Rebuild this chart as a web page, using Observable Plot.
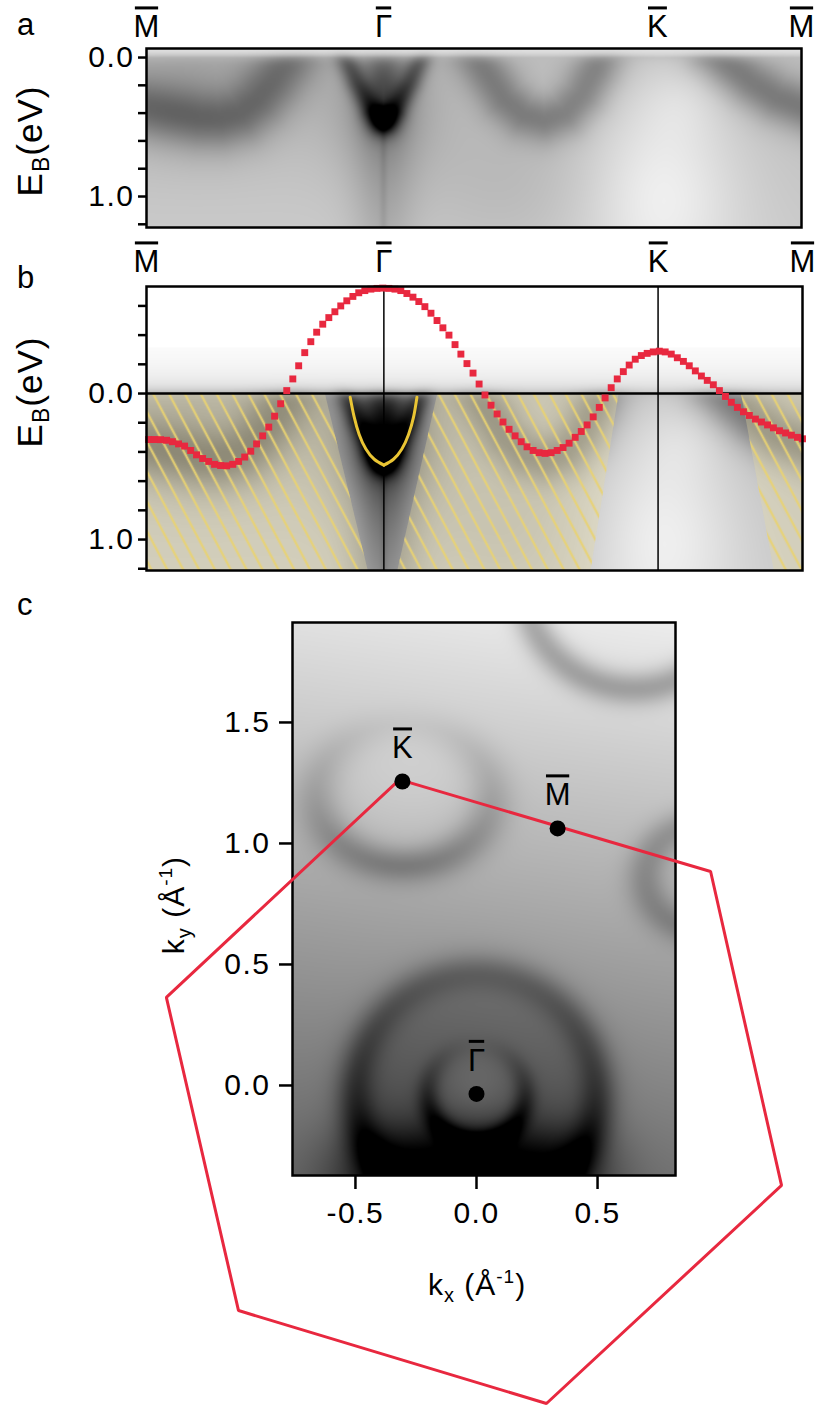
<!DOCTYPE html>
<html>
<head>
<meta charset="utf-8">
<script src="https://cdn.jsdelivr.net/npm/d3@7"></script>
<script src="https://cdn.jsdelivr.net/npm/@observablehq/plot@0.6"></script>
<style>
  html, body { margin: 0; padding: 0; background: #fff; }
  #fig { position: relative; width: 829px; height: 1417px; overflow: hidden; background: #fff;
         font-family: "Liberation Sans", Arial, Helvetica, sans-serif; }
  #fig .panel { position: absolute; left: 0; }
  #fig svg.overlay { position: absolute; left: 0; top: 0; pointer-events: none; }
  #fig svg.overlay text { font-family: "Liberation Sans", Arial, Helvetica, sans-serif; letter-spacing: 1px; white-space: pre; fill: #000; }
</style>
</head>
<body>
<div id="fig">
  <svg width="0" height="0" style="position:absolute">
    <defs>
      <pattern id="hatch" patternUnits="userSpaceOnUse" width="14" height="14" patternTransform="rotate(-28)">
        <rect x="5.75" y="0" width="2.5" height="14" fill="#e9d272" fill-opacity="0.85"></rect>
      </pattern>
    </defs>
  </svg>
  <div class="panel" id="pa" style="top:0px"></div>
  <div class="panel" id="pb" style="top:240px"></div>
  <div class="panel" id="pc" style="top:590px"></div>
  <svg class="overlay" width="829" height="1417">
    <text x="17" y="35" font-size="31">a</text>
    <text x="17" y="288" font-size="31">b</text>
    <text x="17" y="615" font-size="31">c</text>
    <text transform="translate(42,141) rotate(-90)" text-anchor="middle" font-size="35">E<tspan font-size="23" dy="7">B</tspan><tspan dy="-7">(eV)</tspan></text>
    <text transform="translate(42,392) rotate(-90)" text-anchor="middle" font-size="35">E<tspan font-size="23" dy="7">B</tspan><tspan dy="-7">(eV)</tspan></text>
    <text transform="translate(184,905) rotate(-90)" text-anchor="middle" font-size="30">k<tspan font-size="20" dy="7">y</tspan><tspan dy="-7"> (Å</tspan><tspan font-size="19" dy="-12">-1</tspan><tspan dy="12">)</tspan></text>
    <text x="477" y="1295" text-anchor="middle" font-size="30">k<tspan font-size="20" dy="7">x</tspan><tspan dy="-7"> (Å</tspan><tspan font-size="19" dy="-12">-1</tspan><tspan dy="12">)</tspan></text>
  </svg>
</div>
<script>
const RED = "#e8283f";
const YELLOW = "#eac534";
const FONT = '"Liberation Sans", Arial, Helvetica, sans-serif';

// ---------- panels a & b : cut along M–Γ–K–M ----------
const symbolNames = ["M", "Γ", "K", "M"];
const symbolK = [-1.134, 0, 1.31, 2.0];
const kRange = [-1.134, 2.0];
const energyRangeA = [-0.065, 1.223];
const energyRangeB = [-0.733, 1.212];
const imageTopB = -0.315;
const energyTicksA = [0, 0.2, 0.4, 0.6, 0.8, 1.0, 1.2];
const energyTicksB = [-0.6, -0.4, -0.2, 0, 0.2, 0.4, 0.6, 0.8, 1.0, 1.2];
const labeledEnergies = [0, 1];

// calculated band (red squares)
const calcK = [-1.124,-1.096,-1.067,-1.038,-1.010,-0.981,-0.952,-0.923,-0.895,-0.866,
  -0.837,-0.809,-0.780,-0.751,-0.722,-0.694,-0.665,-0.636,-0.608,-0.579,
  -0.550,-0.522,-0.493,-0.464,-0.435,-0.407,-0.378,-0.349,-0.321,-0.292,
  -0.263,-0.234,-0.206,-0.177,-0.148,-0.120,-0.091,-0.062,-0.033,-0.005,
  0.024,0.053,0.081,0.110,0.139,0.167,0.196,0.225,0.254,0.282,
  0.311,0.340,0.368,0.397,0.426,0.455,0.483,0.512,0.541,0.569,
  0.598,0.627,0.656,0.684,0.713,0.742,0.770,0.799,0.828,0.856,
  0.885,0.914,0.943,0.971,1.000,1.029,1.057,1.086,1.115,1.144,
  1.172,1.201,1.230,1.258,1.287,1.316,1.344,1.373,1.402,1.431,
  1.459,1.488,1.517,1.545,1.574,1.603,1.632,1.660,1.689,1.718,
  1.746,1.775,1.804,1.833,1.861,1.890,1.919,1.947,1.976,2.000];
const calcE = [0.315,0.315,0.316,0.32,0.33,0.345,0.36,0.39,0.42,0.445,
  0.465,0.485,0.493,0.495,0.485,0.465,0.435,0.395,0.345,0.29,
  0.23,0.155,0.07,-0.02,-0.10,-0.19,-0.28,-0.355,-0.42,-0.475,
  -0.52,-0.56,-0.60,-0.635,-0.665,-0.69,-0.705,-0.715,-0.72,-0.722,
  -0.72,-0.715,-0.705,-0.685,-0.66,-0.63,-0.595,-0.55,-0.50,-0.45,
  -0.40,-0.335,-0.27,-0.205,-0.14,-0.065,0.01,0.08,0.14,0.195,
  0.245,0.29,0.33,0.365,0.39,0.405,0.41,0.405,0.39,0.37,
  0.34,0.30,0.26,0.215,0.16,0.095,0.03,-0.04,-0.10,-0.15,
  -0.195,-0.235,-0.26,-0.275,-0.285,-0.29,-0.285,-0.27,-0.245,-0.22,
  -0.19,-0.155,-0.12,-0.09,-0.06,-0.02,0.02,0.06,0.095,0.125,
  0.15,0.175,0.195,0.215,0.235,0.255,0.27,0.285,0.30,0.31];

// yellow parabola-like fit at Γ
const fitArm = ["L","L","L","L","L","L","R","R","R","R","R","R"];
const fitK = [-0.161,-0.142,-0.118,-0.086,-0.046,0, 0,0.046,0.086,0.118,0.142,0.158];
const fitE = [0.025,0.16,0.28,0.38,0.45,0.49, 0.49,0.45,0.38,0.28,0.16,0.025];

// hatched (projected bulk) regions
const hatchRegion = [1, 1, 2, 2, 3, 3];
const hatchE  = [0, 1.212, 0, 1.212, 0, 1.212];
const hatchX1 = [-1.134, -1.134, 0.258, 0.067, 1.708, 1.865];
const hatchX2 = [-0.28, -0.075, 1.124, 0.99, 2.0, 2.0];

// photoemission intensity features
const bandAmp = [0.27, 0.30, 0.25, 0.28];
const bandWidth = [21, 8, 17, 18];
const bandPathK = [
  [-1.16,-1.0,-0.88,-0.78,-0.68,-0.60,-0.53,-0.47,-0.43],
  [-0.20,-0.13,-0.06,0,0.06,0.13,0.20],
  [0.43,0.50,0.58,0.67,0.77,0.87,0.95,1.01,1.05],
  [1.58,1.66,1.76,1.88,2.05]];
const bandPathE = [
  [0.36,0.41,0.445,0.45,0.41,0.31,0.18,0.05,-0.05],
  [-0.06,0.18,0.37,0.45,0.37,0.18,-0.06],
  [-0.05,0.12,0.30,0.41,0.45,0.40,0.27,0.10,-0.05],
  [-0.05,0.06,0.18,0.29,0.38]];
const spotK  = [0, 0, 0, -0.9, 1.33, 1.42, 0.6, 0];
const spotE  = [0.45, 0.22, 0.35, 0.25, 0.95, 0.30, 0.9, 0.75];
const spotSX = [11, 15, 40, 70, 55, 30, 70, 22];
const spotSY = [11, 30, 50, 45, 80, 30, 60, 110];
const spotAmp = [0.45, 0.24, 0.12, 0.12, -0.16, -0.05, 0.05, 0.12];
// extra contrast around Γ in panel b (column below the vertex, halo next to the arms)
const extraBK  = [0, 0];
const extraBE  = [0.72, 0.22];
const extraBSX = [24, 42];
const extraBSY = [110, 40];
const extraBAmp = [0.15, 0.16];

// ---------- panel c : constant energy map ----------
const kxRange = [-0.76, 0.822];
const kyRange = [-0.372, 1.913];
const kxTicks = [-0.5, 0, 0.5];
const kyTicks = [0, 0.5, 1.0, 1.5];
const pointNames = ["K", "M", "Γ"];
const pointKx = [-0.306, 0.335, 0];
const pointKy = [1.256, 1.062, -0.035];
const hexKx = [-0.318, 0.967, 1.260, 0.289, -0.983, -1.281];
const hexKy = [1.264, 0.884, -0.413, -1.314, -0.930, 0.364];
const ringCx = [0, 0, -0.30, 0.95, 0.65];
const ringCy = [-0.035, -0.035, 1.20, 0.86, 2.10];
const ringRx = [0.20, 0.50, 0.36, 0.25, 0.46];
const ringRy = [0.20, 0.50, 0.29, 0.22, 0.46];
const ringSigma = [0.035, 0.055, 0.06, 0.055, 0.05];
const ringAmpTop = [0.03, 0.13, 0.03, 0.17, 0.24];
const ringAmpBottom = [0.32, 0.30, 0.20, 0.17, 0.24];

// ---------- intensity evaluation ----------
const SX = 209, SY = 142;
const bandsPx = bandPathK.map((ks, b) => ks.map((k, i) => [k * SX, bandPathE[b][i] * SY]));
function segDist2(px, py, ax, ay, bx, by) {
  const dx = bx - ax, dy = by - ay;
  let t = ((px - ax) * dx + (py - ay) * dy) / (dx * dx + dy * dy);
  t = t < 0 ? 0 : t > 1 ? 1 : t;
  const ex = ax + t * dx - px, ey = ay + t * dy - py;
  return ex * ex + ey * ey;
}
function gaussSum(X, Y, ks, es, sxs, sys, amps) {
  let s = 0;
  for (let i = 0; i < ks.length; i++) {
    const dx = (X - ks[i] * SX) / sxs[i], dy = (Y - es[i] * SY) / sys[i];
    s += amps[i] * Math.exp(-(dx * dx + dy * dy) / 2);
  }
  return s;
}
function arpesDark(k, E) {
  const X = k * SX, Y = E * SY;
  let df = 0;
  for (let b = 0; b < bandsPx.length; b++) {
    const p = bandsPx[b];
    let m = Infinity;
    for (let i = 0; i < p.length - 1; i++) {
      const d = segDist2(X, Y, p[i][0], p[i][1], p[i + 1][0], p[i + 1][1]);
      if (d < m) m = d;
    }
    df += bandAmp[b] * Math.exp(-m / (2 * bandWidth[b] * bandWidth[b]));
  }
  df += gaussSum(X, Y, spotK, spotE, spotSX, spotSY, spotAmp);
  if (E > 0.42) df += 0.05 * Math.exp(-(X * X) / (2 * 2.5 * 2.5));
  return df;
}
function shade(E, df) {
  const d0 = 1 - (0.74 + 0.04 * E);
  const f = 1 / (1 + Math.exp(-E / 0.02));
  const g = E >= 0 ? 1 : 0.45 * Math.exp(E / 0.03) + 0.55 * Math.exp(E / 0.15);
  const v = 1 - (d0 * g + df * f);
  return v < 0 ? 0 : v > 1 ? 1 : v;
}
const arpesA = (k, E) => shade(E, arpesDark(k, E));
const arpesB = (k, E) => shade(E, arpesDark(k, E) + gaussSum(k * SX, E * SY, extraBK, extraBE, extraBSX, extraBSY, extraBAmp));
function fsMap(kx, ky) {
  let v = 0.50 + 0.21 * ky + 0.03 * kx;
  const gx = kx - ringCx[0], gy = ky - ringCy[0];
  const r = Math.hypot(gx, gy);
  v -= 0.16 / (1 + Math.exp((r - 0.52) / 0.05));
  v += 0.07 * Math.exp(-(r * r) / (2 * 0.11 * 0.11));
  v -= 0.40 / (1 + Math.exp((ky + 0.21) / 0.06)) * Math.exp(-Math.pow((kx + 0.02) / 0.56, 4));
  for (let i = 0; i < ringCx.length; i++) {
    const dx = kx - ringCx[i], dy = ky - ringCy[i];
    const rho = Math.sqrt((dx / ringRx[i]) ** 2 + (dy / ringRy[i]) ** 2);
    const d = (rho - 1) * Math.sqrt(ringRx[i] * ringRy[i]);
    const sinT = dy / (Math.hypot(dx, dy) || 1);
    const amp = ringAmpTop[i] * (1 + sinT) / 2 + ringAmpBottom[i] * (1 - sinT) / 2;
    v -= amp * Math.exp(-(d * d) / (2 * ringSigma[i] * ringSigma[i]));
    if (i === 2 && rho < 1) v += 0.05 * (1 - rho * rho);
  }
  return v < 0 ? 0 : v > 1 ? 1 : v;
}

// ---------- tables ----------
const calcRows = calcK.map((k, i) => ({k, E: calcE[i]}));
const fitRows = fitK.map((k, i) => ({k, E: fitE[i], arm: fitArm[i]}));
const hatchRows = hatchE.map((E, i) => ({E, x1: hatchX1[i], x2: hatchX2[i], id: hatchRegion[i]}));
const pointRows = pointNames.map((name, i) => ({name, kx: pointKx[i], ky: pointKy[i]}));
const hexRows = hexKx.map((kx, i) => ({kx, ky: hexKy[i]}));
const fmtE = d => labeledEnergies.some(v => Math.abs(v - d) < 1e-9) ? d.toFixed(1) : "";
const gray = {type: "linear", domain: [0, 1], range: ["#000", "#fff"]};
const style = {fontFamily: FONT, letterSpacing: "1.5px", overflow: "visible", background: "transparent", color: "#000"};
const SYM = "symmetry-point";

const plotA = Plot.plot({
  width: 829, height: 240,
  marginLeft: 146, marginRight: 28, marginTop: 48, marginBottom: 13,
  x: {domain: kRange, axis: null},
  y: {domain: energyRangeA, reverse: true},
  color: gray,
  style,
  marks: [
    Plot.raster({fill: arpesA, x1: kRange[0], x2: kRange[1], y1: energyRangeA[0], y2: energyRangeA[1]}),
    Plot.frame({stroke: "#000", strokeWidth: 2.5}),
    Plot.axisY(energyTicksA, {tickFormat: fmtE, tickSize: 8, tickPadding: 4, fontSize: 30, strokeWidth: 2.5, label: null}),
    Plot.text(symbolK, {x: d => d, text: (d, i) => symbolNames[i], frameAnchor: "top", lineAnchor: "middle", dy: -21, fontSize: 31, fill: "#000", ariaDescription: SYM})
  ]
});

const plotB = Plot.plot({
  width: 829, height: 340,
  marginLeft: 146, marginRight: 27, marginTop: 46, marginBottom: 10,
  x: {domain: kRange, axis: null},
  y: {domain: energyRangeB, reverse: true},
  color: gray,
  style,
  marks: [
    Plot.raster({fill: arpesB, x1: kRange[0], x2: kRange[1], y1: imageTopB, y2: energyRangeB[1]}),
    Plot.areaX(hatchRows, {y: "E", x1: "x1", x2: "x2", z: "id", fill: "#e6dba0", fillOpacity: 0.33}),
    Plot.areaX(hatchRows, {y: "E", x1: "x1", x2: "x2", z: "id", fill: "url(#hatch)"}),
    Plot.ruleX([symbolK[1], symbolK[2]], {stroke: "#000", strokeWidth: 1.5}),
    Plot.ruleY([0], {stroke: "#000", strokeWidth: 2.5}),
    Plot.line(fitRows, {x: "k", y: "E", z: "arm", stroke: YELLOW, strokeWidth: 3, curve: "natural"}),
    Plot.dot(calcRows, {x: "k", y: "E", symbol: "square", r: 3.9, fill: RED}),
    Plot.frame({stroke: "#000", strokeWidth: 2.5}),
    Plot.axisY(energyTicksB, {tickFormat: fmtE, tickSize: 8, tickPadding: 4, fontSize: 30, strokeWidth: 2.5, label: null}),
    Plot.text(symbolK, {x: d => d, text: (d, i) => symbolNames[i], frameAnchor: "top", lineAnchor: "middle", dy: -24, fontSize: 31, fill: "#000", ariaDescription: SYM})
  ]
});

const plotC = Plot.plot({
  width: 829, height: 827,
  marginLeft: 292, marginRight: 154, marginTop: 32, marginBottom: 242,
  x: {domain: kxRange},
  y: {domain: kyRange},
  color: gray,
  style,
  marks: [
    Plot.raster({fill: fsMap, x1: kxRange[0], x2: kxRange[1], y1: kyRange[0], y2: kyRange[1]}),
    Plot.frame({stroke: "#000", strokeWidth: 2.5}),
    Plot.axisX(kxTicks, {tickFormat: d => d.toFixed(1), tickSize: 14, tickPadding: 12, fontSize: 30, strokeWidth: 2.5, label: null}),
    Plot.axisY(kyTicks, {tickFormat: d => d.toFixed(1), tickSize: 13, tickPadding: 9, fontSize: 30, strokeWidth: 2.5, label: null}),
    Plot.line([...hexRows, hexRows[0]], {x: "kx", y: "ky", stroke: RED, strokeWidth: 3, strokeLinejoin: "miter"}),
    Plot.dot(pointRows, {x: "kx", y: "ky", r: 8, fill: "#000"}),
    Plot.text(pointRows, {x: "kx", y: "ky", text: "name", lineAnchor: "middle", dy: -33, fontSize: 31, fill: "#000", ariaDescription: SYM})
  ]
});

document.getElementById("pa").appendChild(plotA);
document.getElementById("pb").appendChild(plotB);
document.getElementById("pc").appendChild(plotC);

// overline bars on the symmetry-point labels (M̄, Γ̄, K̄), sized from each rendered label
const SVGNS = "http://www.w3.org/2000/svg";
for (const svg of [plotA, plotB, plotC]) {
  svg.querySelectorAll(`[aria-description="${SYM}"] text`).forEach(t => {
    t.style.letterSpacing = "0px";
    const b = t.getBBox();
    const inset = b.width * 0.05;
    const bar = document.createElementNS(SVGNS, "rect");
    bar.setAttribute("x", b.x + inset);
    bar.setAttribute("width", Math.max(0, b.width - 2 * inset));
    bar.setAttribute("y", b.y - 3);
    bar.setAttribute("height", 3);
    bar.setAttribute("fill", "#000");
    const tr = t.getAttribute("transform");
    if (tr) bar.setAttribute("transform", tr);
    t.parentNode.appendChild(bar);
  });
}
</script>
</body>
</html>
